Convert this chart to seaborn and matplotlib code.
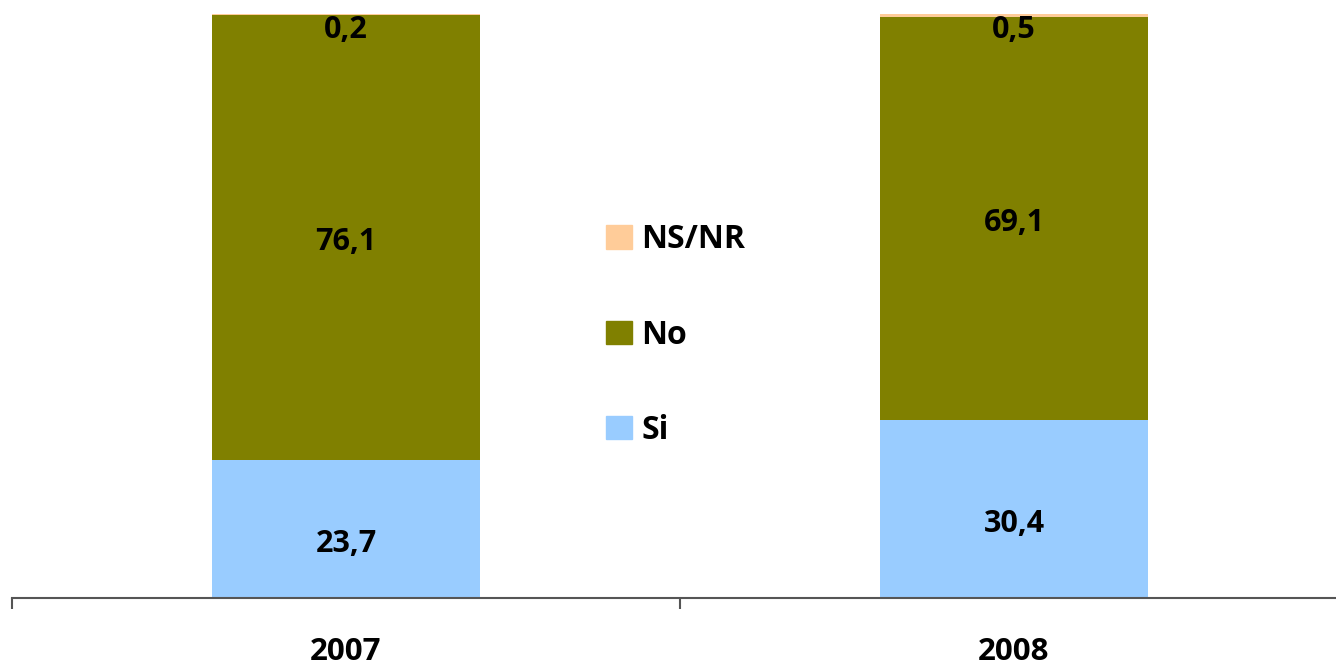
import pandas as pd
import numpy as np
import matplotlib
matplotlib.use("Agg")
import matplotlib.pyplot as plt
import seaborn as sns
from matplotlib.patches import Patch

# data
years = ["2007", "2008"]
si = [23.7, 30.4]
no = [76.1, 69.1]
nsnr = [0.2, 0.5]
labels_si = ["23,7", "30,4"]
labels_no = ["76,1", "69,1"]
labels_nsnr = ["0,2", "0,5"]

c_si = "#99ccff"
c_no = "#808000"
c_ns = "#ffcc99"

sns.set_style("white")
plt.rcParams['font.family'] = ['Open Sans', 'DejaVu Sans']
plt.rcParams['font.weight'] = 'bold'
plt.rcParams['text.color'] = 'black'

df = pd.DataFrame({"year": years, "Si": si, "No": no, "NS/NR": nsnr})
df["bottom_ns"] = df["Si"] + df["No"]

fig = plt.figure(figsize=(13.36, 6.72), dpi=100)
ax = fig.add_axes([12/1336, 74/672, 1336/1336, 584/672])

kw = dict(width=0.4, ax=ax, saturation=1, linewidth=0, edgecolor="none")
sns.barplot(data=df, x="year", y="Si", color=c_si, **kw)
sns.barplot(data=df, x="year", y="No", bottom=df["Si"], color=c_no, **kw)
sns.barplot(data=df, x="year", y="NS/NR", bottom=df["bottom_ns"], color=c_ns, **kw)

ax.set_xlim(-0.5, 1.5)
ax.set_ylim(0, 100)

# value labels
fs = 22
for i in range(len(years)):
    ax.text(i, si[i] / 2 - 3.9, labels_si[i], ha="center", va="baseline", fontsize=fs, fontweight="bold", color="black")
    ax.text(i, si[i] + no[i] / 2 - 2.15, labels_no[i], ha="center", va="baseline", fontsize=fs, fontweight="bold", color="black")
    ax.text(i, 95.9, labels_nsnr[i], ha="center", va="baseline", fontsize=fs, fontweight="bold", color="black")

# axes styling
for s in ["top", "right", "left"]:
    ax.spines[s].set_visible(False)
ax.spines["bottom"].set_color("#555555")
ax.spines["bottom"].set_linewidth(1.5)
ax.set_yticks([])
ax.set_xticks([-0.5, 0.5, 1.5])
ax.set_xticklabels([])
ax.tick_params(axis="x", which="major", bottom=True, length=8, width=1.5, color="#555555", direction="out")
ax.set_xticks([0, 1], minor=True)
ax.set_xticklabels(years, minor=True)
ax.tick_params(axis="x", which="minor", bottom=True, length=0, pad=28, labelsize=22.5, labelcolor="black")
for t in ax.get_xticklabels(minor=True):
    t.set_fontweight("bold")
ax.set_xlabel("")
ax.set_ylabel("")

handles = [Patch(color=c_ns, label="NS/NR"), Patch(color=c_no, label="No"), Patch(color=c_si, label="Si")]
fig.legend(handles=handles, loc="center left", bbox_to_anchor=(606/1336, 1 - 335/672),
           frameon=False, handlelength=0.8, handleheight=0.75, borderpad=0, borderaxespad=0,
           handletextpad=0.3, labelspacing=1.95, prop={"weight": "bold", "size": 23})

fig.savefig("out.png", dpi=100)
